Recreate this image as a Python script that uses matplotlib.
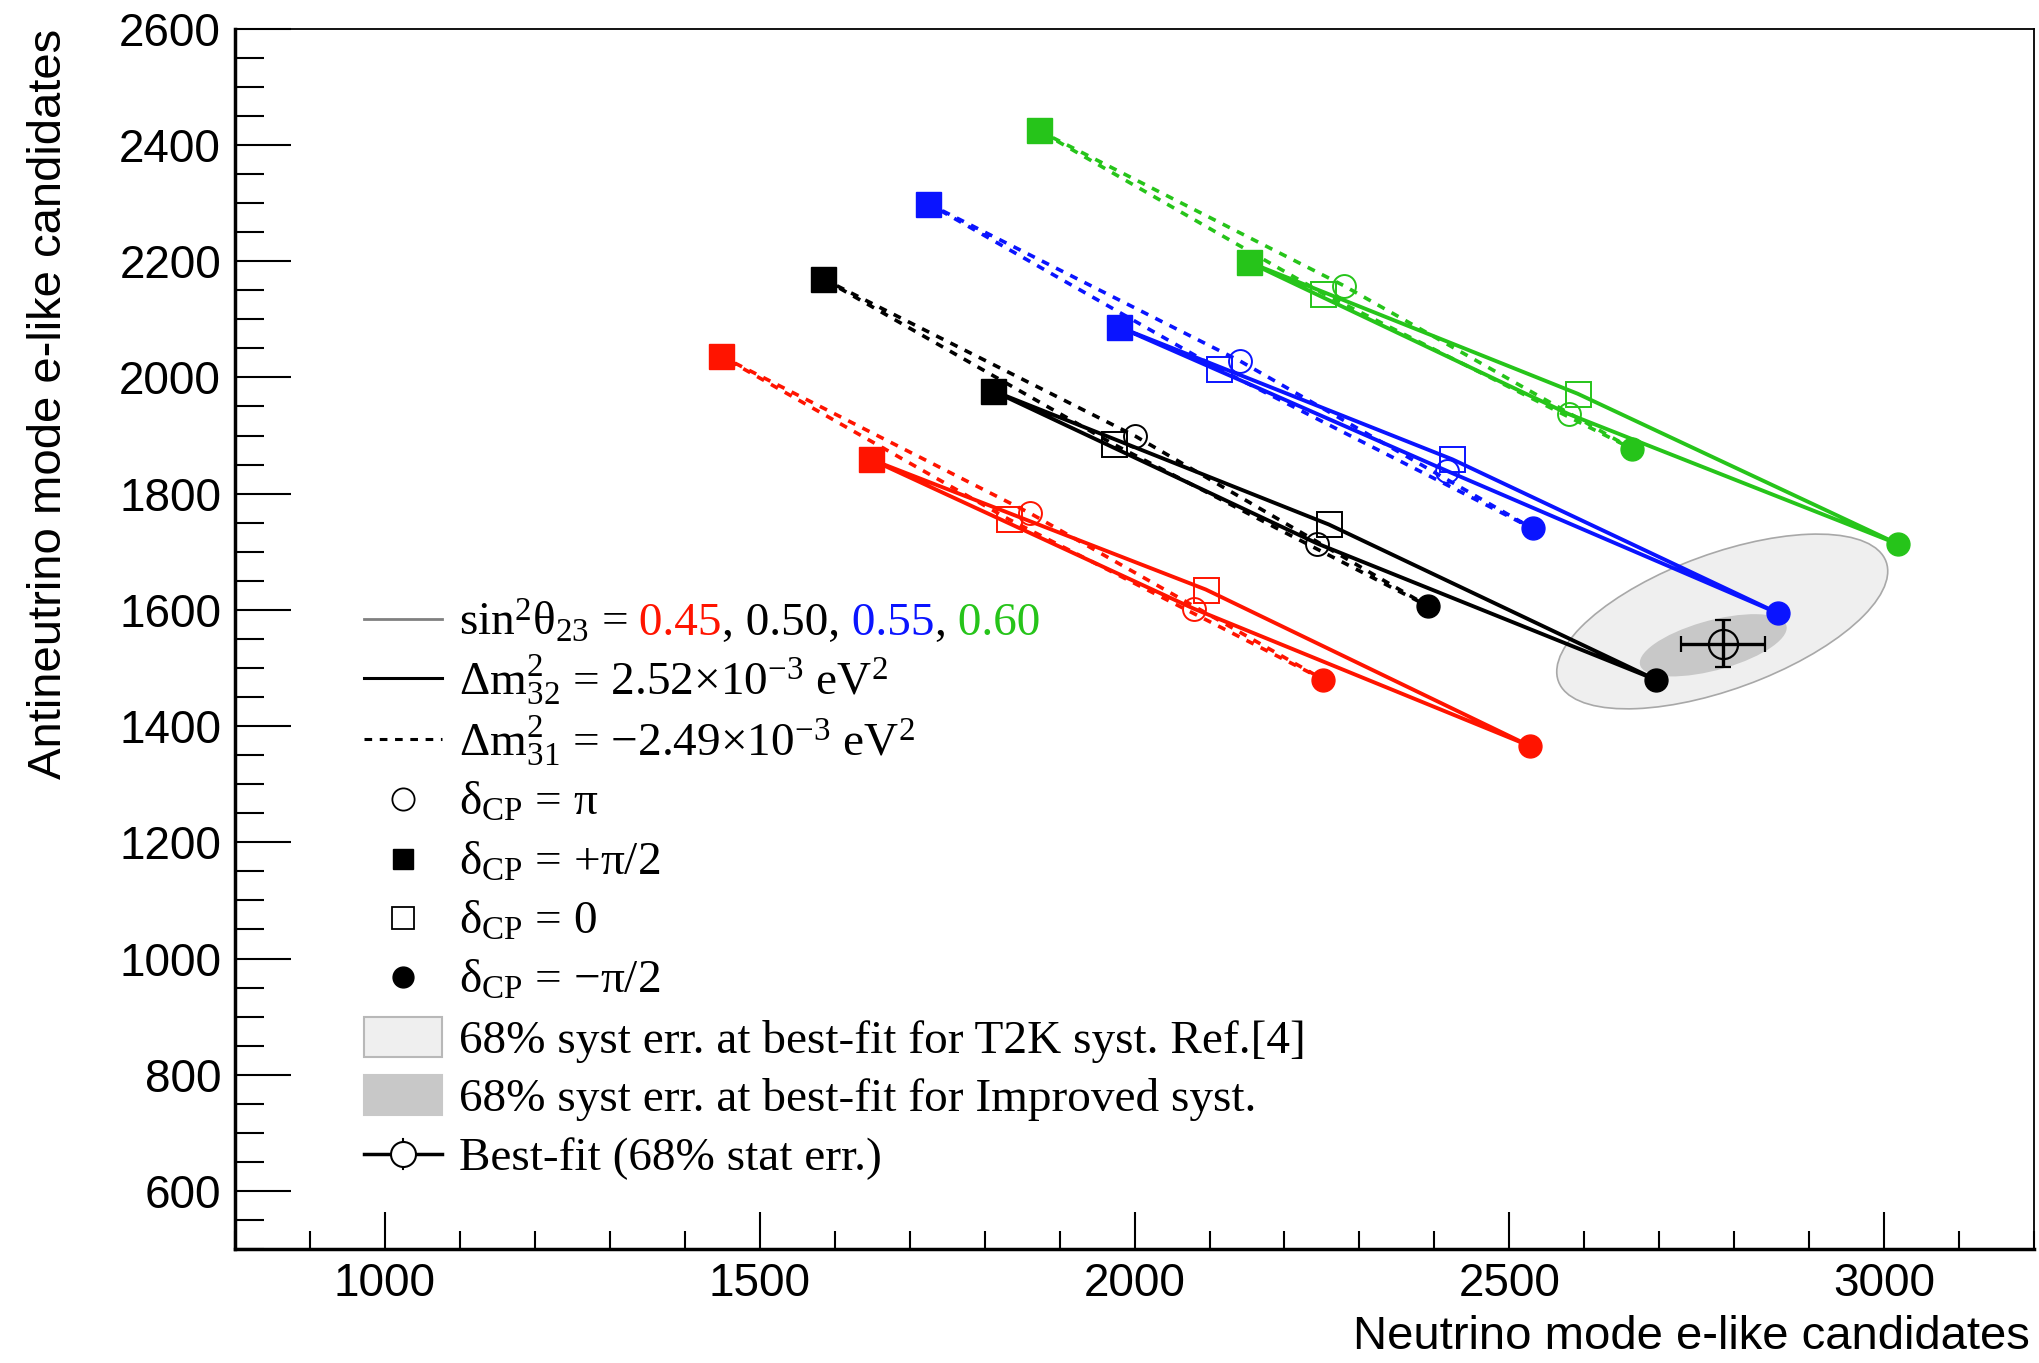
import matplotlib
matplotlib.use('Agg')
import matplotlib.pyplot as plt
from matplotlib.patches import Ellipse, Rectangle
from matplotlib.ticker import MultipleLocator

plt.rcParams['font.family'] = ['Liberation Sans', 'DejaVu Sans']
plt.rcParams['mathtext.default'] = 'regular'

# sin^2(theta23) values and their colours
sin2_labels = ['0.45', '0.50', '0.55', '0.60']
colors = ['#ff1400', '#000000', '#0a14ff', '#26c41a']

# delta_CP order around each loop: +pi/2, pi, -pi/2, 0
delta_cp = ['+pi/2', 'pi', '-pi/2', '0']

# normal ordering (dm2_32 = 2.52e-3), neutrino / antineutrino e-like counts
nh_nu = [[1648, 2079, 2527, 2095],
         [1811, 2244, 2695, 2259],
         [1979, 2417, 2859, 2424],
         [2153, 2579, 3019, 2591]]
nh_nubar = [[1859, 1602, 1366, 1635],
            [1977, 1714, 1480, 1747],
            [2087, 1839, 1594, 1859],
            [2198, 1937, 1713, 1972]]

# inverted ordering (dm2_31 = -2.49e-3)
ih_nu = [[1448, 1861, 2252, 1832],
         [1584, 2001, 2392, 1972],
         [1725, 2141, 2531, 2112],
         [1872, 2279, 2664, 2252]]
ih_nubar = [[2037, 1766, 1480, 1756],
            [2170, 1899, 1606, 1885],
            [2299, 2028, 1740, 2015],
            [2425, 2158, 1877, 2144]]

# best fit with 68% stat error
bf_nu, bf_nubar = 2785, 1542
bf_nu_err, bf_nubar_err = 56, 41

# 68% syst error contours: centre, full width, full height, angle
syst_t2k = (2784, 1580, 485, 224, 27.8)
syst_improved = (2772, 1539, 207, 84, 20.6)

# marker per delta_CP: (marker, filled)
marker_style = [('s', True), ('o', False), ('o', True), ('s', False)]

fig = plt.figure(figsize=(20.4, 13.63), dpi=100)
ax = fig.add_axes([0.1152, 0.0836, 0.8819, 0.8953])

cx, cy, w, h, ang = syst_t2k
ax.add_patch(Ellipse((cx, cy), w, h, angle=ang, facecolor='#efefef', edgecolor='#a8a8a8', lw=1.2, zorder=1))
cx, cy, w, h, ang = syst_improved
ax.add_patch(Ellipse((cx, cy), w, h, angle=ang, facecolor='#c8c8c8', edgecolor='none', zorder=1.1))

for i in range(len(sin2_labels)):
    c = colors[i]
    ax.plot(nh_nu[i] + nh_nu[i][:1], nh_nubar[i] + nh_nubar[i][:1], '-', color=c, lw=2.8, zorder=2)
    ax.plot(ih_nu[i] + ih_nu[i][:1], ih_nubar[i] + ih_nubar[i][:1], color=c, lw=2.6,
            ls=(0, (2.2, 2.2)), zorder=2)
    for nu, nubar in [(nh_nu, nh_nubar), (ih_nu, ih_nubar)]:
        for j in range(len(delta_cp)):
            m, filled = marker_style[j]
            ms = 18 if m == 's' else 16.5
            if filled:
                ax.plot(nu[i][j], nubar[i][j], m, color=c, ms=ms, zorder=3)
            else:
                ax.plot(nu[i][j], nubar[i][j], m, mfc='none', mec=c, ms=ms, mew=1.4, zorder=3)

ax.errorbar(bf_nu, bf_nubar, xerr=bf_nu_err, yerr=bf_nubar_err, fmt='o', mfc='none', mec='k',
            ms=21, mew=1.6, ecolor='k', elinewidth=2.4, capsize=6, capthick=2.4, zorder=4)

ax.set_xlim(800, 3200)
ax.set_ylim(500, 2600)
ax.xaxis.set_major_locator(MultipleLocator(500))
ax.xaxis.set_minor_locator(MultipleLocator(100))
ax.yaxis.set_major_locator(MultipleLocator(200))
ax.yaxis.set_minor_locator(MultipleLocator(50))
ax.tick_params(axis='y', which='major', direction='in', length=40, width=1.5, labelsize=33, pad=10)
ax.tick_params(axis='y', which='minor', direction='in', length=21, width=1.5)
ax.tick_params(axis='x', which='major', direction='in', length=27, width=1.5, labelsize=33, pad=9)
ax.tick_params(axis='x', which='minor', direction='in', length=13, width=1.5)
ax.spines['left'].set_linewidth(2.5)
ax.spines['bottom'].set_linewidth(2.5)
ax.spines['top'].set_linewidth(1.3)
ax.spines['right'].set_linewidth(1.3)

ax.text(-0.1034, 1.0, 'Antineutrino mode e-like candidates', transform=ax.transAxes,
        rotation=90, ha='center', va='top', fontsize=34)
ax.text(0.9978, -0.072, 'Neutrino mode e-like candidates', transform=ax.transAxes,
        ha='right', va='center', fontsize=34)

# legend, ROOT style
serif = ['Liberation Serif', 'DejaVu Serif']
fs = 34
x0, x1, xt = 0.0717, 0.1151, 0.1245
xm = (x0 + x1) / 2
rows = [0.5163, 0.4679, 0.4179, 0.3688, 0.3196, 0.2712, 0.2229, 0.1737, 0.1262, 0.0778]
base = 0.0131

def sample_line(y, **kw):
    ax.plot([x0, x1], [y, y], transform=ax.transAxes, clip_on=False, **kw)

def label(y, s, **kw):
    return ax.text(xt, y - base, s, transform=ax.transAxes, va='baseline', ha='left',
                   fontsize=fs, family=serif, **kw)

sample_line(rows[0], color='#808080', lw=2)
t = label(rows[0], r'sin$^{2}$θ$_{23}$ =')
pieces = [(' ' + sin2_labels[0], colors[0]), (', ' + sin2_labels[1] + ',', 'k'),
          (' ' + sin2_labels[2], colors[2]), (',', 'k'), (' ' + sin2_labels[3], colors[3])]
for s, c in pieces:
    t = ax.annotate(s, xy=(1, rows[0] - base), xycoords=(t, 'axes fraction'), va='baseline',
                    ha='left', fontsize=fs, family=serif, color=c)

sample_line(rows[1], color='k', lw=2.2)
label(rows[1], r'Δm$^{2}_{32}$ = 2.52×10$^{-3}$ eV$^{2}$')
sample_line(rows[2], color='k', lw=2.2, ls=(0, (2.5, 2.5)))
label(rows[2], r'Δm$^{2}_{31}$ = −2.49×10$^{-3}$ eV$^{2}$')

dcp_text = ['+π/2', 'π', '−π/2', '0']
leg_order = [1, 0, 3, 2]
for k, j in enumerate(leg_order):
    y = rows[3 + k]
    m, filled = marker_style[j]
    if filled:
        ax.plot(xm, y, m, color='k', ms=15, transform=ax.transAxes, clip_on=False)
    else:
        ax.plot(xm, y, m, mfc='none', mec='k', ms=16, mew=1.3, transform=ax.transAxes, clip_on=False)
    label(y, r'δ$_{CP}$ = ' + dcp_text[j])

ax.add_patch(Rectangle((x0, rows[7] - 0.0164), x1 - x0, 0.0328, transform=ax.transAxes,
                       facecolor='#efefef', edgecolor='#b8b8b8', lw=1.5, clip_on=False))
label(rows[7], '68% syst err. at best-fit for T2K syst. Ref.[4]')
ax.add_patch(Rectangle((x0, rows[8] - 0.0164), x1 - x0, 0.0328, transform=ax.transAxes,
                       facecolor='#c8c8c8', edgecolor='#c8c8c8', lw=1.5, clip_on=False))
label(rows[8], '68% syst err. at best-fit for Improved syst.')
sample_line(rows[9], color='k', lw=2.5)
ax.plot([xm, xm], [rows[9] - 0.012, rows[9] + 0.012], color='k', lw=1.5, transform=ax.transAxes, clip_on=False)
ax.plot(xm, rows[9], 'o', mfc='white', mec='k', ms=18, mew=1.5, transform=ax.transAxes, clip_on=False)
label(rows[9], 'Best-fit (68% stat err.)')

fig.savefig('out.png', dpi=100)
